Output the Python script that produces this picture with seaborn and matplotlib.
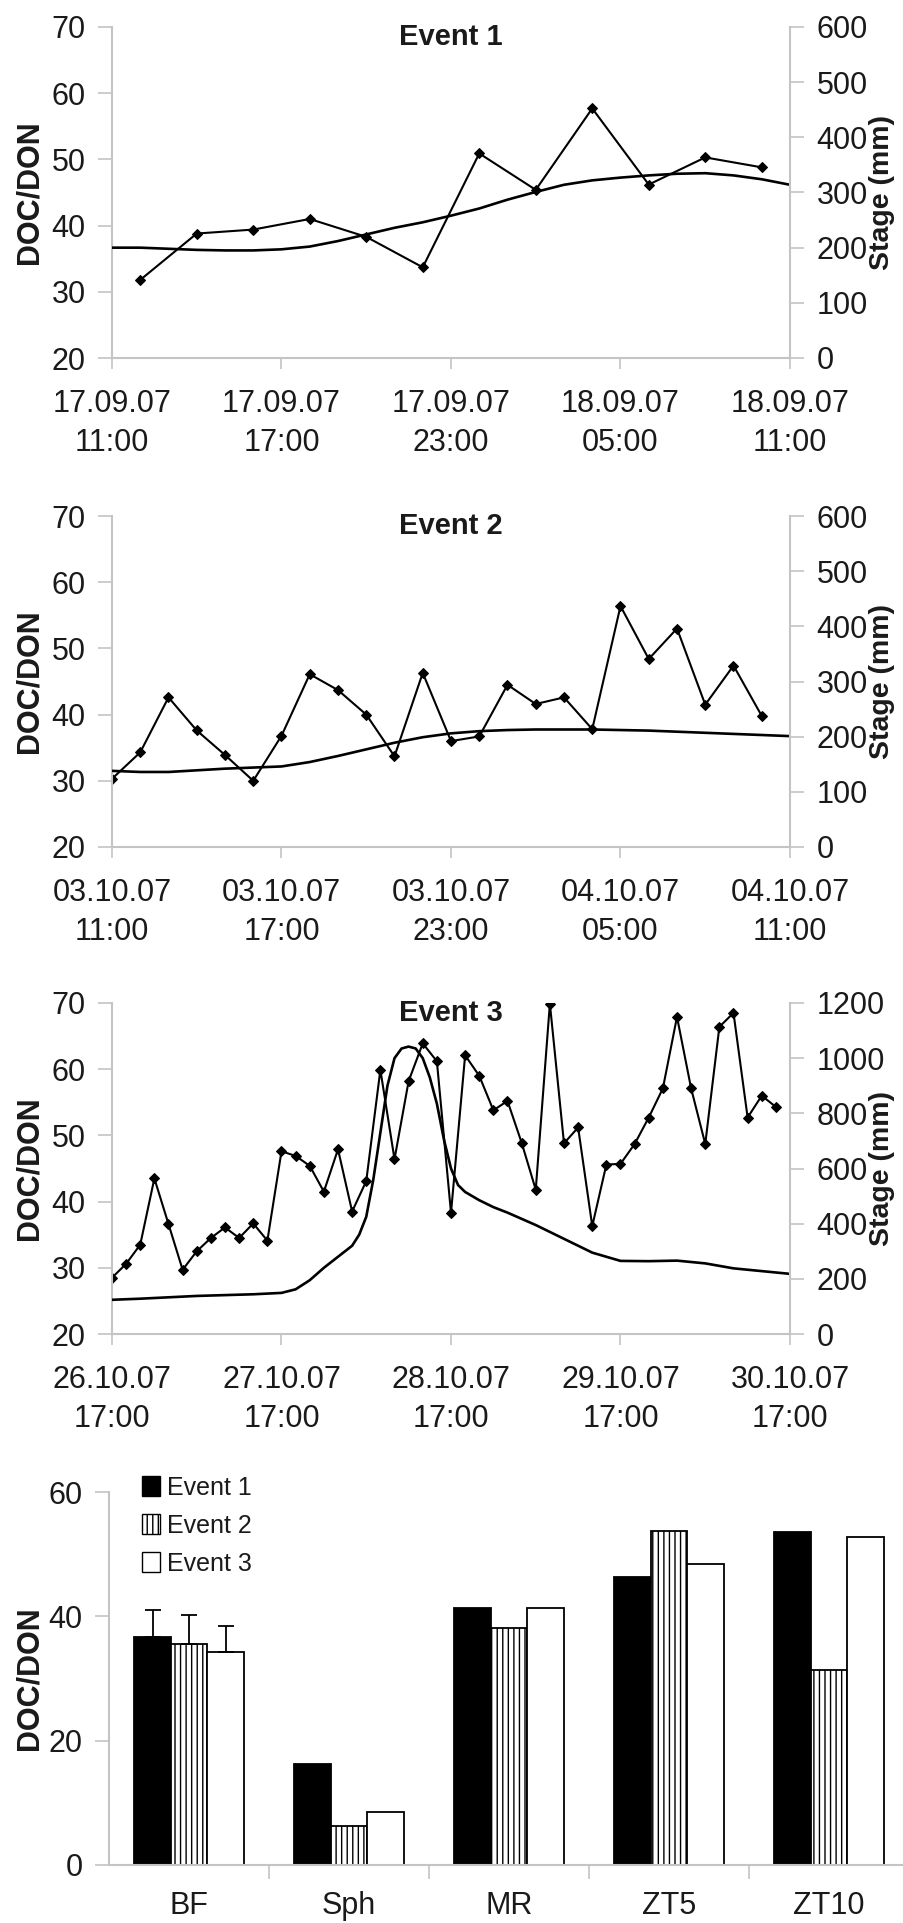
import numpy as np
import pandas as pd
import matplotlib
matplotlib.use("Agg")
import matplotlib.pyplot as plt
import seaborn as sns
from matplotlib.patches import Patch

# ---------------- data ----------------
# Event 1 (hours after 17.09.07 11:00)
e1_doc_hours = [1, 3, 5, 7, 9, 11, 13, 15, 17, 19, 21, 23]
e1_doc = [31.8, 38.8, 39.4, 41.0, 38.3, 33.7, 50.9, 45.4, 57.7, 46.2, 50.3, 48.8]
e1_stage_hours = [0, 1, 2, 3, 4, 5, 6, 7, 8, 9, 10, 11, 12, 13, 14, 15, 16, 17, 18, 19, 20, 21, 22, 23, 24]
e1_stage = [200, 200, 198, 196, 195, 195, 197, 202, 212, 224, 236, 246, 258, 271, 287, 301, 314, 322, 327, 331, 334, 335, 331, 324, 314]
e1_ticks = [0, 6, 12, 18, 24]
e1_ticklabels = ["17.09.07\n11:00", "17.09.07\n17:00", "17.09.07\n23:00", "18.09.07\n05:00", "18.09.07\n11:00"]

# Event 2 (hours after 03.10.07 11:00)
e2_doc_hours = [0, 1, 2, 3, 4, 5, 6, 7, 8, 9, 10, 11, 12, 13, 14, 15, 16, 17, 18, 19, 20, 21, 22, 23]
e2_doc = [30.3, 34.3, 42.6, 37.6, 33.9, 30.0, 36.8, 46.1, 43.7, 40.0, 33.7, 46.3,
          36.0, 36.7, 44.5, 41.6, 42.6, 37.8, 56.4, 48.4, 53.0, 41.5, 47.4, 39.8]
e2_stage_hours = [0, 1, 2, 3, 4, 5, 6, 7, 8, 9, 10, 11, 12, 13, 14, 15, 16, 17, 18, 19, 20, 21, 22, 23, 24]
e2_stage = [138, 136, 136, 139, 142, 144, 146, 154, 165, 177, 189, 199, 206, 210, 212, 213, 213, 213, 212, 211, 209, 207, 205, 203, 201]
e2_ticks = [0, 6, 12, 18, 24]
e2_ticklabels = ["03.10.07\n11:00", "03.10.07\n17:00", "03.10.07\n23:00", "04.10.07\n05:00", "04.10.07\n11:00"]

# Event 3 (hours after 26.10.07 17:00)
e3_doc_hours = [0, 2, 4, 6, 8, 10, 12, 14, 16, 18, 20, 22, 24, 26, 28, 30, 32, 34, 36, 38, 40, 42, 44, 46,
                48, 50, 52, 54, 56, 58, 60, 62, 64, 66, 68, 70, 72, 74, 76, 78, 80, 82, 84, 86, 88, 90, 92, 94]
e3_doc = [28.5, 30.6, 33.5, 43.5, 36.6, 29.7, 32.5, 34.5, 36.1, 34.5, 36.7, 34.1,
          47.6, 46.9, 45.4, 41.5, 47.9, 38.5, 43.1, 59.9, 46.4, 58.2, 63.9, 61.2,
          38.3, 62.1, 59.0, 53.8, 55.2, 48.9, 41.8, 69.9, 48.8, 51.2, 36.3, 45.6,
          45.7, 48.7, 52.7, 57.1, 67.9, 57.1, 48.7, 66.4, 68.5, 52.7, 56.0, 54.3]
e3_stage_hours = [0, 4, 8, 12, 16, 20, 24, 26, 28, 30, 32, 34, 35, 36, 37, 38, 39, 40, 41, 42, 43, 44, 45,
                  46, 47, 48, 49, 50, 52, 54, 56, 60, 64, 68, 72, 76, 80, 84, 88, 92, 96]
e3_stage = [124, 128, 133, 138, 141, 144, 149, 162, 195, 240, 280, 320, 360, 425, 560, 730, 900, 1000, 1035,
            1042, 1035, 1000, 930, 835, 705, 600, 540, 515, 485, 460, 440, 395, 345, 295, 265, 264, 266, 256,
            238, 228, 218]
e3_ticks = [0, 24, 48, 72, 96]
e3_ticklabels = ["26.10.07\n17:00", "27.10.07\n17:00", "28.10.07\n17:00", "29.10.07\n17:00", "30.10.07\n17:00"]

# Bar chart
sites = ["BF", "Sph", "MR", "ZT5", "ZT10"]
events = ["Event 1", "Event 2", "Event 3"]
bar_e1 = [36.7, 16.3, 41.3, 46.3, 53.5]
bar_e2 = [35.6, 6.3, 38.1, 53.8, 31.3]
bar_e3 = [34.3, 8.5, 41.3, 48.4, 52.7]
bf_err = [4.3, 4.6, 4.2]

# ---------------- style ----------------
sns.set_style("white")
plt.rcParams["font.family"] = ["Liberation Sans", "DejaVu Sans"]
plt.rcParams["hatch.linewidth"] = 1.0
GRAY = "#c4c4c4"
TXT = "#1a1a1a"
FS = 22

fig = plt.figure(figsize=(9.04, 19.23), dpi=100)
W, H = 904.0, 1923.0


def axes_px(left, top, right, bottom):
    return fig.add_axes([left / W, 1 - bottom / H, (right - left) / W, (bottom - top) / H])


def style_line_panel(ax, ax2, ticks, ticklabels, xmax, smax, sstep, title):
    ax.set_xlim(0, xmax)
    ax.set_ylim(20, 70)
    ax.set_yticks([20, 30, 40, 50, 60, 70])
    ax.set_xticks(ticks)
    ax.set_xticklabels(ticklabels, fontsize=FS, color=TXT, linespacing=1.38)
    ax.tick_params(axis="x", length=8, width=1.2, color=GRAY, pad=14.5, direction="out", bottom=True)
    ax.tick_params(axis="y", length=10, width=1.2, color=GRAY, pad=9, labelsize=FS, labelcolor=TXT,
                   direction="out", left=True)
    for s in ["top", "right"]:
        ax.spines[s].set_visible(False)
    for s in ["left", "bottom"]:
        ax.spines[s].set_color(GRAY)
        ax.spines[s].set_linewidth(1.5)
    ax.set_xlabel("")
    ax.set_ylabel("DOC/DON", fontsize=FS, fontweight="bold", color=TXT)
    ax.yaxis.set_label_coords(-0.099, 0.5)

    ax2.set_ylim(0, smax)
    ax2.set_yticks(np.arange(0, smax + 1, sstep))
    ax2.tick_params(axis="y", length=10, width=1.2, color=GRAY, pad=9, labelsize=FS, labelcolor=TXT,
                    direction="out", right=True)
    for s in ["top", "left", "bottom"]:
        ax2.spines[s].set_visible(False)
    ax2.spines["right"].set_color(GRAY)
    ax2.spines["right"].set_linewidth(1.5)
    ax2.set_ylabel("Stage (mm)", fontsize=20.5, fontweight="bold", color=TXT)
    ax2.yaxis.set_label_coords(1.117, 0.5)
    ax2.set_xlabel("")
    ax.text(0.5, 1 - 10 / 331, title, transform=ax.transAxes, ha="center", va="center",
            fontsize=21, fontweight="bold", color=TXT, zorder=10)


panels = [
    (27, 358, e1_doc_hours, e1_doc, e1_stage_hours, e1_stage, e1_ticks, e1_ticklabels, 24, 600, 100, "Event 1"),
    (516, 847, e2_doc_hours, e2_doc, e2_stage_hours, e2_stage, e2_ticks, e2_ticklabels, 24, 600, 100, "Event 2"),
    (1003, 1334, e3_doc_hours, e3_doc, e3_stage_hours, e3_stage, e3_ticks, e3_ticklabels, 96, 1200, 200, "Event 3"),
]

for (top, bottom, dh, dv, sh, sv, ticks, tl, xmax, smax, sstep, title) in panels:
    ax = axes_px(112, top, 790, bottom)
    ax2 = ax.twinx()
    sns.lineplot(x=dh, y=dv, ax=ax, color="black", linewidth=1.5, marker="D", markersize=5.5,
                 markeredgecolor="black", markerfacecolor="black")
    sns.lineplot(x=sh, y=sv, ax=ax2, color="black", linewidth=1.9)
    style_line_panel(ax, ax2, ticks, tl, xmax, smax, sstep, title)

# ---------------- bar chart ----------------
axb = axes_px(109.2, 1492, 909.2, 1865)
df = pd.DataFrame({
    "site": sites * 3,
    "event": [events[0]] * 5 + [events[1]] * 5 + [events[2]] * 5,
    "ratio": bar_e1 + bar_e2 + bar_e3,
})
sns.barplot(data=df, x="site", y="ratio", hue="event", order=sites, hue_order=events,
            palette={"Event 1": "black", "Event 2": "white", "Event 3": "white"},
            edgecolor="black", linewidth=1.3, width=0.684, errorbar=None, legend=False, ax=axb)
bar_containers = list(axb.containers)
for bar in bar_containers[1]:
    bar.set_hatch("|||")
for i, cont in enumerate(bar_containers):
    b = cont.patches[0]
    axb.errorbar(b.get_x() + b.get_width() / 2, b.get_height(), yerr=[[0], [bf_err[i]]],
                 color="black", capsize=6, elinewidth=1.3, capthick=1.3, zorder=5)

axb.set_xlim(-0.5, 4.5)
axb.set_ylim(0, 60)
axb.set_yticks([0, 20, 40, 60])
axb.set_xticks(range(len(sites)))
axb.set_xticklabels(sites, fontsize=FS, color=TXT)
axb.set_xticks([0.5, 1.5, 2.5, 3.5], minor=True)
axb.tick_params(axis="x", which="major", length=0, pad=19)
axb.tick_params(axis="x", which="minor", length=10, width=1.2, color=GRAY, direction="out", bottom=True)
axb.tick_params(axis="y", length=10, width=1.2, color=GRAY, pad=9, labelsize=FS, labelcolor=TXT,
                direction="out", left=True)
for s in ["top", "right"]:
    axb.spines[s].set_visible(False)
for s in ["left", "bottom"]:
    axb.spines[s].set_color(GRAY)
    axb.spines[s].set_linewidth(1.5)
axb.set_xlabel("")
axb.set_ylabel("DOC/DON", fontsize=FS, fontweight="bold", color=TXT)
axb.yaxis.set_label_coords(-0.0815, 0.5)

handles = [Patch(facecolor="black", edgecolor="black"),
           Patch(facecolor="white", edgecolor="black", hatch="|||"),
           Patch(facecolor="white", edgecolor="black")]
fig.legend(handles, events, loc="upper left", bbox_to_anchor=(142 / W, 1 - 1476 / H),
           frameon=False, fontsize=18, handlelength=0.72, handleheight=0.85, handletextpad=0.3,
           labelspacing=0.56, borderpad=0, borderaxespad=0, labelcolor=TXT)

fig.savefig("out.png", dpi=100, facecolor="white")
